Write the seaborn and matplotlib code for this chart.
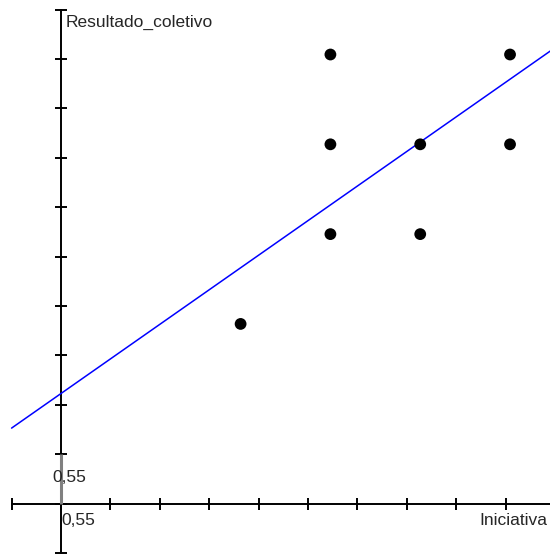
import numpy as np
import pandas as pd
import matplotlib
matplotlib.use("Agg")
import matplotlib.pyplot as plt
import seaborn as sns

# Observed scores
iniciativa = [2, 3, 3, 3, 4, 4, 5, 5]
resultado_coletivo = [2, 5, 4, 3, 4, 3, 5, 4]

# Fitted regression line: Resultado_coletivo = intercept + slope * Iniciativa
slope = 0.70
intercept = 1.225

# Axis grid step and visible range
step = 0.55
axis_min = -0.55
axis_max = 5.5

sns.set_style("white")
plt.rcParams["font.family"] = ["Liberation Sans", "DejaVu Sans"]

fig = plt.figure(figsize=(5.5, 5.54), dpi=100)
ax = fig.add_axes([0, 0, 1, 1])

df = pd.DataFrame({"Iniciativa": iniciativa, "Resultado_coletivo": resultado_coletivo})

# regression line
line_x = np.array([axis_min, axis_max + 0.5])
line_df = pd.DataFrame({"x": line_x, "y": intercept + slope * line_x})
sns.lineplot(data=line_df, x="x", y="y", ax=ax, color="#0000ff", linewidth=1.1, zorder=3)

sns.scatterplot(data=df, x="Iniciativa", y="Resultado_coletivo", ax=ax,
                color="black", s=72, edgecolor="none", zorder=4)

ax.set_xlim(-0.679, 5.445)
ax.set_ylim(-0.562, 5.607)

# axes crossing at the origin, GeoGebra style
for side in ("top", "right"):
    ax.spines[side].set_visible(False)
ax.spines["left"].set_position(("data", 0))
ax.spines["bottom"].set_position(("data", 0))
ax.spines["left"].set_bounds(axis_min, axis_max)
ax.spines["bottom"].set_bounds(axis_min, 5.46)
for side in ("left", "bottom"):
    ax.spines[side].set_linewidth(1.4)
    ax.spines[side].set_color("black")
    ax.spines[side].set_zorder(2)

ticks = np.round(np.arange(-1, 11) * step, 4)
ax.set_xticks(ticks[:-1])
ax.set_yticks(ticks)
ax.set_xticklabels([])
ax.set_yticklabels([])
ax.tick_params(axis="both", direction="inout", length=8, width=1.4, color="black",
               bottom=True, left=True)
ax.set_xlabel("")
ax.set_ylabel("")

# highlighted first unit on the vertical axis
ax.plot([0, 0], [0, step], color="#808080", linewidth=2.2, zorder=2.5, solid_capstyle="butt")

# axis names and unit labels
ax.text(0.056, 5.306, "Resultado_coletivo", fontsize=12.5, ha="left", va="baseline")
ax.text(5.412, -0.239, "Iniciativa", fontsize=12.5, ha="right", va="baseline")
ax.text(0.0, -0.239, "0,55", fontsize=12.5, ha="left", va="baseline")
ax.text(-0.095, 0.239, "0,55", fontsize=12.5, ha="left", va="baseline")

fig.savefig("out.png", dpi=100)
